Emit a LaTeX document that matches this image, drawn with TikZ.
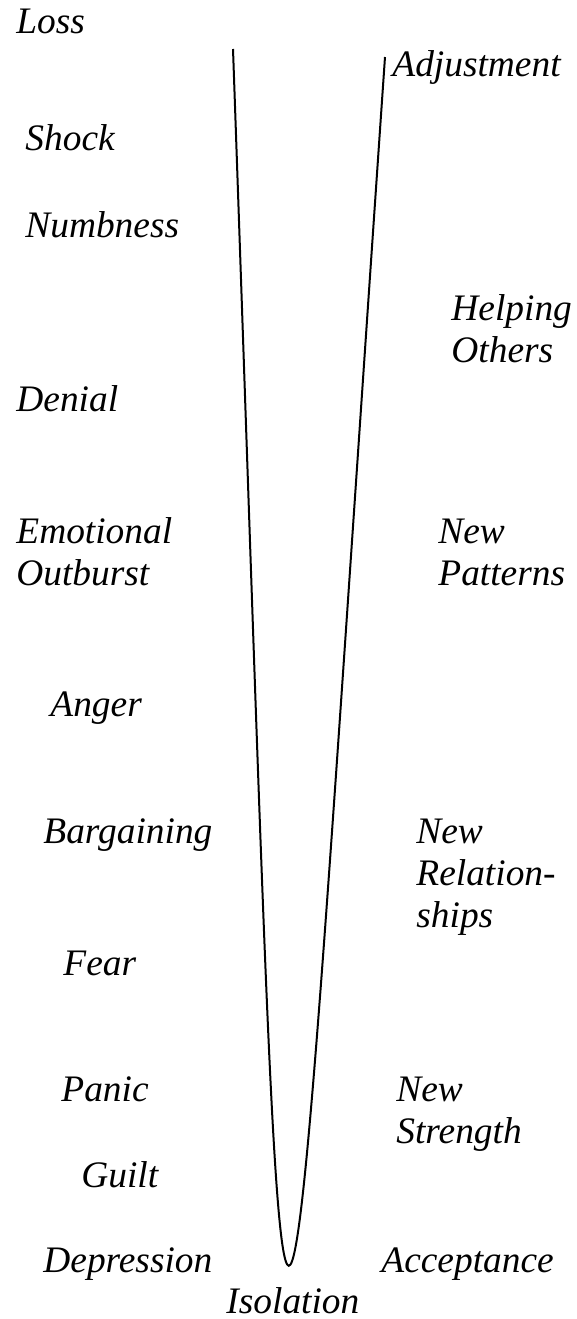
\documentclass[tikz,border=0pt]{standalone}
\usepackage{fontspec}
\setmainfont{Liberation Serif}[ItalicFont={Liberation Serif Italic}]
\begin{document}
\begin{tikzpicture}[x=0.5pt,y=-0.5pt,
  lbl/.style={anchor=base west,inner sep=0pt,align=left,
    font=\fontsize{18.7pt}{21pt}\selectfont\itshape},
  curve/.style={line width=1pt,black}]
\useasboundingbox (0,0) rectangle (577,1319);
% curve
\coordinate (ltop) at (233,49);
\coordinate (rtop) at (385,57);
\draw[curve] (ltop) .. controls (290,1670) and (274,1670) .. (rtop);
% left labels (multi-line nodes: anchor at last line baseline)
\node[lbl] (loss) at (16,33) {Loss};
\node[lbl] (shock) at (25,150) {Shock};
\node[lbl] (numb) at (25,237) {Numbness};
\node[lbl] (denial) at (16,411) {Denial};
\node[lbl] (emo) at (16,585) {Emotional\\Outburst};
\node[lbl] (anger) at (50,716) {Anger};
\node[lbl] (barg) at (43,843) {Bargaining};
\node[lbl] (fear) at (63,975) {Fear};
\node[lbl] (panic) at (61,1101) {Panic};
\node[lbl] (guilt) at (81,1187) {Guilt};
\node[lbl] (dep) at (43,1272) {Depression};
\node[lbl] (iso) at (226,1313) {Isolation};
% right labels
\node[lbl] (adj) at (392,76) {Adjustment};
\node[lbl] (help) at (451,362) {Helping\\Others};
\node[lbl] (pat) at (438,585) {New\\Patterns};
\node[lbl] (rel) at (416,927) {New\\Relation-\\ships};
\node[lbl] (str) at (396,1143) {New\\Strength};
\node[lbl] (acc) at (381,1272) {Acceptance};
\end{tikzpicture}
\end{document}
